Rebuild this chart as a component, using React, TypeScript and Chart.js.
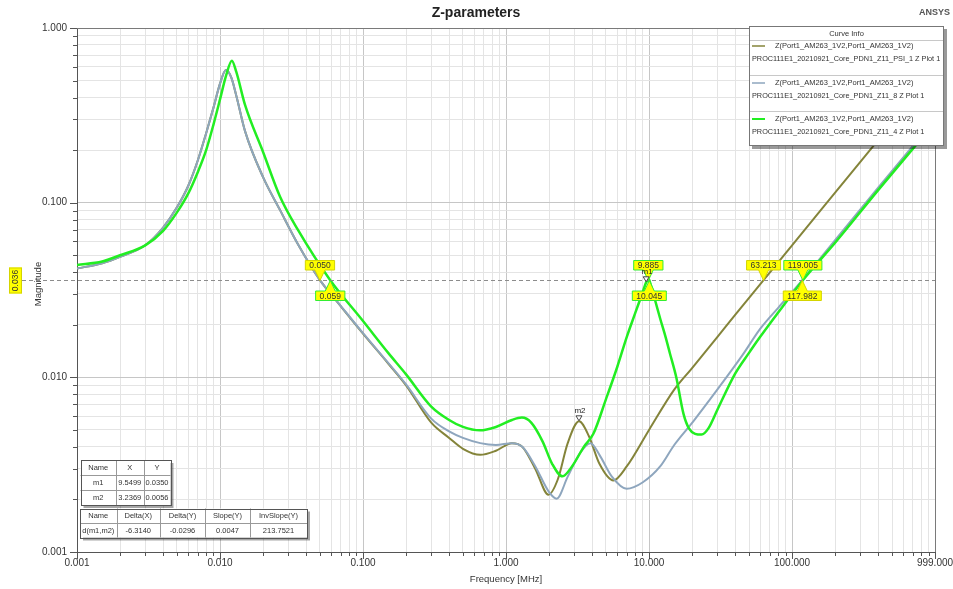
import React, { useEffect, useRef } from "react";
import { Chart, registerables } from "chart.js";

Chart.register(...registerables);

// ---------------- DATA ----------------
const SERIES_TITLE = "Z(Port1_AM263_1V2,Port1_AM263_1V2)";
const SERIES_NAMES = [
  "PROC111E1_20210921_Core_PDN1_Z11_PSI_1 Z Plot 1",
  "PROC111E1_20210921_Core_PDN1_Z11_8 Z Plot 1",
  "PROC111E1_20210921_Core_PDN1_Z11_4 Z Plot 1",
];

// Series 1 (olive): Z11_PSI_1
const FREQ_PSI1 = [0.001, 0.0015, 0.002, 0.003, 0.004, 0.005, 0.006, 0.007, 0.008, 0.009, 0.01, 0.011, 0.012, 0.013, 0.015, 0.02, 0.0263, 0.035, 0.05, 0.07, 0.1, 0.15, 0.2, 0.3, 0.4, 0.5, 0.66, 0.85, 1.1, 1.3, 1.6, 1.98, 2.3, 2.7, 3.24, 3.8, 4.5, 5.63, 7, 10, 15, 20, 30, 40, 63.2, 100, 200, 400, 999];
const MAG_PSI1 = [0.042, 0.045, 0.049, 0.057, 0.072, 0.094, 0.125, 0.175, 0.25, 0.35, 0.48, 0.575, 0.52, 0.41, 0.255, 0.14, 0.0906, 0.058, 0.036, 0.0255, 0.0178, 0.012, 0.009, 0.0055, 0.0045, 0.0039, 0.0036, 0.0038, 0.0042, 0.004, 0.003, 0.00213, 0.0026, 0.0042, 0.0056, 0.0046, 0.0032, 0.00257, 0.0031, 0.005, 0.0085, 0.0113, 0.017, 0.0228, 0.036, 0.057, 0.114, 0.228, 0.57];

// Series 2 (blue-grey): Z11_8
const FREQ_Z8 = [0.001, 0.0015, 0.002, 0.003, 0.004, 0.005, 0.006, 0.007, 0.008, 0.009, 0.01, 0.011, 0.012, 0.013, 0.015, 0.02, 0.0263, 0.035, 0.05, 0.07, 0.1, 0.15, 0.2, 0.3, 0.4, 0.5, 0.66, 0.85, 1.1, 1.3, 1.6, 2.0, 2.26, 2.7, 3.3, 3.9, 4.5, 5.5, 6.98, 9, 12, 15, 20.4, 30, 45, 60, 80, 118, 200, 400, 999];
const MAG_Z8 = [0.042, 0.045, 0.049, 0.057, 0.072, 0.094, 0.125, 0.175, 0.25, 0.35, 0.48, 0.575, 0.52, 0.41, 0.255, 0.14, 0.0906, 0.058, 0.036, 0.0256, 0.0179, 0.0121, 0.0091, 0.0058, 0.0049, 0.0045, 0.0042, 0.0041, 0.0042, 0.004, 0.0031, 0.0022, 0.00202, 0.0027, 0.0037, 0.0042, 0.0036, 0.0027, 0.0023, 0.0025, 0.0031, 0.0041, 0.0056, 0.0085, 0.0134, 0.019, 0.025, 0.036, 0.061, 0.122, 0.3];

// Series 3 (green): Z11_4
const FREQ_Z4 = [0.001, 0.0015, 0.002, 0.003, 0.004, 0.005, 0.006, 0.007, 0.008, 0.009, 0.01, 0.011, 0.0121, 0.013, 0.015, 0.02, 0.0263, 0.035, 0.059, 0.1, 0.15, 0.2, 0.3, 0.4, 0.5, 0.658, 0.85, 1.1, 1.29, 1.5, 1.8, 2.1, 2.48, 2.9, 3.5, 4.08, 5, 6, 6.98, 8, 9, 9.55, 9.885, 9.96, 10.045, 11, 12, 13, 14, 15.5, 17.4, 19, 21, 23.3, 26, 30, 40, 50, 59.7, 80, 119, 200, 400, 705, 999];
const MAG_Z4 = [0.044, 0.046, 0.05, 0.057, 0.069, 0.088, 0.113, 0.15, 0.2, 0.28, 0.39, 0.53, 0.65, 0.56, 0.36, 0.195, 0.108, 0.07, 0.036, 0.021, 0.0138, 0.0104, 0.0068, 0.0057, 0.0052, 0.00497, 0.0052, 0.0057, 0.00588, 0.0055, 0.0043, 0.0032, 0.00271, 0.0031, 0.004, 0.00475, 0.0075, 0.0115, 0.017, 0.0233, 0.0305, 0.035, 0.036, 0.0366, 0.036, 0.0278, 0.0215, 0.0172, 0.0137, 0.01, 0.0062, 0.0051, 0.00475, 0.0047, 0.0051, 0.0065, 0.0105, 0.0138, 0.017, 0.0235, 0.036, 0.059, 0.118, 0.205, 0.287];

// Axis tick labels
const X_MAJOR_VALUES = [0.001, 0.01, 0.1, 1, 10, 100, 999];
const X_MAJOR_LABELS = ["0.001", "0.010", "0.100", "1.000", "10.000", "100.000", "999.000"];
const Y_MAJOR_VALUES = [0.001, 0.01, 0.1, 1];
const Y_MAJOR_LABELS = ["0.001", "0.010", "0.100", "1.000"];

// Horizontal marker line and its crossings
const MARKER_LEVEL = 0.036;
const MARKER_LEVEL_LABEL = "0.036";
const CROSS_VALUES = [0.05, 0.059, 9.885, 10.045, 63.213, 119.005, 117.982];
const CROSS_LABELS = ["0.050", "0.059", "9.885", "10.045", "63.213", "119.005", "117.982"];
const CROSS_ABOVE = [true, false, true, false, true, true, false];
const CROSS_SERIES = [0, 2, 2, 2, 0, 2, 1];

// Point markers
const MARKER_NAMES = ["m1", "m2"];
const MARKER_X = [9.5499, 3.2369];
const MARKER_Y = [0.035, 0.0056];

// Marker tables
const TABLE1 = [
  ["Name", "X", "Y"],
  ["m1", "9.5499", "0.0350"],
  ["m2", "3.2369", "0.0056"],
];
const TABLE2 = [
  ["Name", "Delta(X)", "Delta(Y)", "Slope(Y)", "InvSlope(Y)"],
  ["d(m1,m2)", "-6.3140", "-0.0296", "0.0047", "213.7521"],
];

// ---------------- STYLE ----------------
const FONT = '"Liberation Sans", Arial, Helvetica, sans-serif';
const COLORS = ["#84843a", "#8ea6be", "#22ee22"];
const WIDTHS = [2, 2, 2.5];
const CROSS_BORDER = ["#d4d400", "#d4d400", "#33ee33"];

function matchIndex(list: number[], v: number) {
  return list.findIndex((t) => Math.abs(t - v) / t < 1e-6);
}

function logTicks(decades: number[], extra: number[]) {
  const out: number[] = [];
  decades.forEach((d) => {
    for (let k = 1; k <= 9; k++) out.push(parseFloat((k * d).toPrecision(6)));
  });
  return out.concat(extra);
}

const X_TICKS = logTicks([0.001, 0.01, 0.1, 1, 10, 100], [999]);
const Y_TICKS = logTicks([0.001, 0.01, 0.1], [1]);

function drawTable(ctx: CanvasRenderingContext2D, cols: number[], rows: number[], cells: string[][]) {
  const x0 = cols[0], x1 = cols[cols.length - 1];
  const y0 = rows[0], y1 = rows[rows.length - 1];
  ctx.fillStyle = "rgba(0,0,0,0.35)";
  ctx.fillRect(x0 + 3, y0 + 3, x1 - x0, y1 - y0);
  ctx.fillStyle = "#ffffff";
  ctx.fillRect(x0, y0, x1 - x0, y1 - y0);
  ctx.strokeStyle = "#999999";
  ctx.lineWidth = 1;
  for (let i = 1; i < cols.length - 1; i++) {
    ctx.beginPath();
    ctx.moveTo(Math.round(cols[i]) + 0.5, y0);
    ctx.lineTo(Math.round(cols[i]) + 0.5, y1);
    ctx.stroke();
  }
  for (let j = 1; j < rows.length - 1; j++) {
    ctx.beginPath();
    ctx.moveTo(x0, Math.round(rows[j]) + 0.5);
    ctx.lineTo(x1, Math.round(rows[j]) + 0.5);
    ctx.stroke();
  }
  ctx.strokeStyle = "#555555";
  ctx.strokeRect(Math.round(x0) + 0.5, Math.round(y0) + 0.5, Math.round(x1 - x0), Math.round(y1 - y0));
  ctx.fillStyle = "#333333";
  ctx.font = `7.5px ${FONT}`;
  ctx.textAlign = "center";
  ctx.textBaseline = "middle";
  cells.forEach((row, j) => {
    row.forEach((txt, i) => {
      ctx.fillText(txt, (cols[i] + cols[i + 1]) / 2, (rows[j] + rows[j + 1]) / 2 + 0.5);
    });
  });
}

const overlayPlugin = {
  id: "overlay",
  afterDatasetsDraw(chart: any) {
    const ctx: CanvasRenderingContext2D = chart.ctx;
    const xs = chart.scales.x;
    const ys = chart.scales.y;
    const ca = chart.chartArea;
    ctx.save();

    // frame (top/right)
    ctx.strokeStyle = "#7a7a7a";
    ctx.lineWidth = 1;
    ctx.beginPath();
    ctx.moveTo(ca.left, Math.round(ca.top) + 0.5);
    ctx.lineTo(ca.right, Math.round(ca.top) + 0.5);
    ctx.moveTo(Math.round(ca.right) + 0.5, ca.top);
    ctx.lineTo(Math.round(ca.right) + 0.5, ca.bottom);
    ctx.stroke();

    // axis tick marks
    ctx.strokeStyle = "#555555";
    ctx.beginPath();
    Y_TICKS.forEach((v) => {
      const y = Math.round(ys.getPixelForValue(v)) + 0.5;
      const len = matchIndex(Y_MAJOR_VALUES, v) >= 0 ? 7 : 4;
      ctx.moveTo(ca.left - len, y);
      ctx.lineTo(ca.left, y);
    });
    X_TICKS.forEach((v) => {
      const x = Math.round(xs.getPixelForValue(v)) + 0.5;
      const len = matchIndex(X_MAJOR_VALUES, v) >= 0 ? 7 : 4;
      ctx.moveTo(x, ca.bottom);
      ctx.lineTo(x, ca.bottom + len);
    });
    ctx.stroke();

    // x tick labels
    ctx.fillStyle = "#333333";
    ctx.font = `10px ${FONT}`;
    ctx.textAlign = "center";
    ctx.textBaseline = "middle";
    X_MAJOR_VALUES.forEach((v, i) => {
      ctx.fillText(X_MAJOR_LABELS[i], xs.getPixelForValue(v), ca.bottom + 11.5);
    });

    // dashed marker line
    const yLine = Math.round(ys.getPixelForValue(MARKER_LEVEL)) + 0.5;
    ctx.strokeStyle = "#8c8c8c";
    ctx.setLineDash([4, 3]);
    ctx.beginPath();
    ctx.moveTo(22, yLine);
    ctx.lineTo(ca.right, yLine);
    ctx.stroke();
    ctx.setLineDash([]);

    // level label on the left (rotated)
    ctx.fillStyle = "#ffff00";
    ctx.fillRect(9, yLine - 13, 13, 26);
    ctx.strokeStyle = "#d4d400";
    ctx.strokeRect(9.5, yLine - 12.5, 12, 25);
    ctx.save();
    ctx.translate(15.5, yLine);
    ctx.rotate(-Math.PI / 2);
    ctx.fillStyle = "#333333";
    ctx.font = `8.5px ${FONT}`;
    ctx.textAlign = "center";
    ctx.textBaseline = "middle";
    ctx.fillText(MARKER_LEVEL_LABEL, 0, 0.5);
    ctx.restore();

    // crossing labels
    ctx.font = `8.5px ${FONT}`;
    CROSS_VALUES.forEach((v, i) => {
      const cx = xs.getPixelForValue(v);
      const txt = CROSS_LABELS[i];
      const w = ctx.measureText(txt).width + 8;
      const h = 9.5;
      const above = CROSS_ABOVE[i];
      const top = above ? yLine - 20 : yLine + 10.5;
      const bottom = top + h;
      ctx.beginPath();
      if (above) {
        ctx.moveTo(cx - w / 2, top);
        ctx.lineTo(cx + w / 2, top);
        ctx.lineTo(cx + w / 2, bottom);
        ctx.lineTo(cx + 5, bottom);
        ctx.lineTo(cx, yLine);
        ctx.lineTo(cx - 5, bottom);
        ctx.lineTo(cx - w / 2, bottom);
      } else {
        ctx.moveTo(cx - w / 2, top);
        ctx.lineTo(cx - 5, top);
        ctx.lineTo(cx, yLine);
        ctx.lineTo(cx + 5, top);
        ctx.lineTo(cx + w / 2, top);
        ctx.lineTo(cx + w / 2, bottom);
        ctx.lineTo(cx - w / 2, bottom);
      }
      ctx.closePath();
      ctx.fillStyle = "#ffff00";
      ctx.fill();
      ctx.strokeStyle = CROSS_BORDER[CROSS_SERIES[i]];
      ctx.lineWidth = 1;
      ctx.stroke();
      ctx.fillStyle = "#333333";
      ctx.textAlign = "center";
      ctx.textBaseline = "middle";
      ctx.fillText(txt, cx, (top + bottom) / 2 + 0.5);
    });

    // point markers
    MARKER_NAMES.forEach((name, i) => {
      const px = xs.getPixelForValue(MARKER_X[i]);
      const py = ys.getPixelForValue(MARKER_Y[i]);
      ctx.strokeStyle = "#444444";
      ctx.fillStyle = "#ffffff";
      ctx.lineWidth = 1;
      ctx.beginPath();
      ctx.moveTo(px - 3, py - 5.5);
      ctx.lineTo(px + 3, py - 5.5);
      ctx.lineTo(px, py - 0.5);
      ctx.closePath();
      ctx.fill();
      ctx.stroke();
      ctx.fillStyle = "#222222";
      ctx.font = `8px ${FONT}`;
      ctx.textAlign = "center";
      ctx.textBaseline = "alphabetic";
      ctx.fillText(name, px + 1, py - 8);
    });

    // marker tables
    drawTable(ctx, [80.5, 116, 143.5, 170.5], [460, 475, 490, 505], TABLE1);
    drawTable(ctx, [80, 116.5, 160, 205, 250, 307], [508.5, 523, 537.5], TABLE2);

    // legend box
    const lx0 = 749, ly0 = 26, lx1 = 944, ly1 = 146;
    ctx.fillStyle = "rgba(0,0,0,0.4)";
    ctx.fillRect(lx0 + 3, ly0 + 3, lx1 - lx0, ly1 - ly0);
    ctx.fillStyle = "#ffffff";
    ctx.fillRect(lx0, ly0, lx1 - lx0, ly1 - ly0);
    ctx.strokeStyle = "#777777";
    ctx.strokeRect(lx0 + 0.5, ly0 + 0.5, lx1 - lx0 - 1, ly1 - ly0 - 1);
    ctx.strokeStyle = "#c8c8c8";
    [40, 75, 111].forEach((sy) => {
      ctx.beginPath();
      ctx.moveTo(lx0 + 1, sy + 0.5);
      ctx.lineTo(lx1 - 1, sy + 0.5);
      ctx.stroke();
    });
    ctx.fillStyle = "#333333";
    ctx.font = `7.5px ${FONT}`;
    ctx.textAlign = "center";
    ctx.textBaseline = "middle";
    ctx.fillText("Curve Info", (lx0 + lx1) / 2, 34);
    const entryY = [46, 83, 119];
    SERIES_NAMES.forEach((nm, i) => {
      const ey = entryY[i];
      ctx.strokeStyle = COLORS[i];
      ctx.lineWidth = i === 2 ? 2 : 1.5;
      ctx.beginPath();
      ctx.moveTo(752, ey);
      ctx.lineTo(765, ey);
      ctx.stroke();
      ctx.fillStyle = "#333333";
      ctx.textAlign = "left";
      ctx.font = `7.5px ${FONT}`;
      ctx.fillText(SERIES_TITLE, 775, ey);
      ctx.font = `7.3px ${FONT}`;
      ctx.fillText(nm, 752, ey + 12.5);
    });

    // titles
    ctx.fillStyle = "#222222";
    ctx.font = `bold 14px ${FONT}`;
    ctx.textAlign = "center";
    ctx.textBaseline = "middle";
    ctx.fillText("Z-parameters", 476, 13);
    ctx.fillStyle = "#555555";
    ctx.font = `bold 9px ${FONT}`;
    ctx.textAlign = "right";
    ctx.fillText("ANSYS", 950, 13);

    ctx.fillStyle = "#333333";
    ctx.font = `9.5px ${FONT}`;
    ctx.textAlign = "center";
    ctx.fillText("Frequency [MHz]", 506, 579);
    ctx.save();
    ctx.translate(38, 284);
    ctx.rotate(-Math.PI / 2);
    ctx.fillText("Magnitude", 0, 0);
    ctx.restore();

    ctx.restore();
  },
};

function makeData(fs: number[], ms: number[]) {
  return fs.map((f, i) => ({ x: f, y: ms[i] }));
}

export default function App() {
  const canvasRef = useRef<HTMLCanvasElement | null>(null);

  useEffect(() => {
    if (!canvasRef.current) return;
    const series = [
      [FREQ_PSI1, MAG_PSI1],
      [FREQ_Z8, MAG_Z8],
      [FREQ_Z4, MAG_Z4],
    ];
    const chart = new Chart(canvasRef.current, {
      type: "line",
      data: {
        datasets: series.map((s, i) => ({
          label: SERIES_NAMES[i],
          data: makeData(s[0] as number[], s[1] as number[]),
          borderColor: COLORS[i],
          backgroundColor: COLORS[i],
          borderWidth: WIDTHS[i],
          pointRadius: 0,
          cubicInterpolationMode: "monotone" as const,
          fill: false,
          order: 2 - i,
        })),
      },
      options: {
        responsive: false,
        animation: false,
        devicePixelRatio: 1,
        layout: { padding: { left: 0, right: 18, top: 28, bottom: 0 } },
        plugins: { legend: { display: false }, tooltip: { enabled: false }, title: { display: false } },
        events: [],
        scales: {
          x: {
            type: "logarithmic",
            min: 0.001,
            max: 999,
            afterBuildTicks: (axis: any) => {
              axis.ticks = X_TICKS.map((v) => ({ value: v }));
            },
            afterFit: (axis: any) => {
              axis.height = 37;
            },
            ticks: { display: false, autoSkip: false },
            grid: {
              drawTicks: false,
              color: (c: any) => (c.tick && matchIndex(X_MAJOR_VALUES, c.tick.value) >= 0 ? "#c6c6c6" : "#e4e4e4"),
              lineWidth: 1,
            },
            border: { display: true, color: "#555555", width: 1 },
          },
          y: {
            type: "logarithmic",
            min: 0.001,
            max: 1,
            afterBuildTicks: (axis: any) => {
              axis.ticks = Y_TICKS.map((v) => ({ value: v }));
            },
            afterFit: (axis: any) => {
              axis.width = 77;
            },
            ticks: {
              autoSkip: false,
              padding: 10,
              color: "#333333",
              font: { family: FONT, size: 10 },
              callback: (v: any) => {
                const i = matchIndex(Y_MAJOR_VALUES, Number(v));
                return i >= 0 ? Y_MAJOR_LABELS[i] : "";
              },
            },
            grid: {
              drawTicks: false,
              color: (c: any) => (c.tick && matchIndex(Y_MAJOR_VALUES, c.tick.value) >= 0 ? "#c6c6c6" : "#e4e4e4"),
              lineWidth: 1,
            },
            border: { display: true, color: "#555555", width: 1 },
          },
        },
      },
      plugins: [overlayPlugin],
    } as any);
    return () => chart.destroy();
  }, []);

  return (
    <div style={{ position: "fixed", left: 0, top: 0, width: 953, height: 589, background: "#ffffff" }}>
      <canvas ref={canvasRef} width={953} height={589} style={{ display: "block", width: 953, height: 589 }} />
    </div>
  );
}
